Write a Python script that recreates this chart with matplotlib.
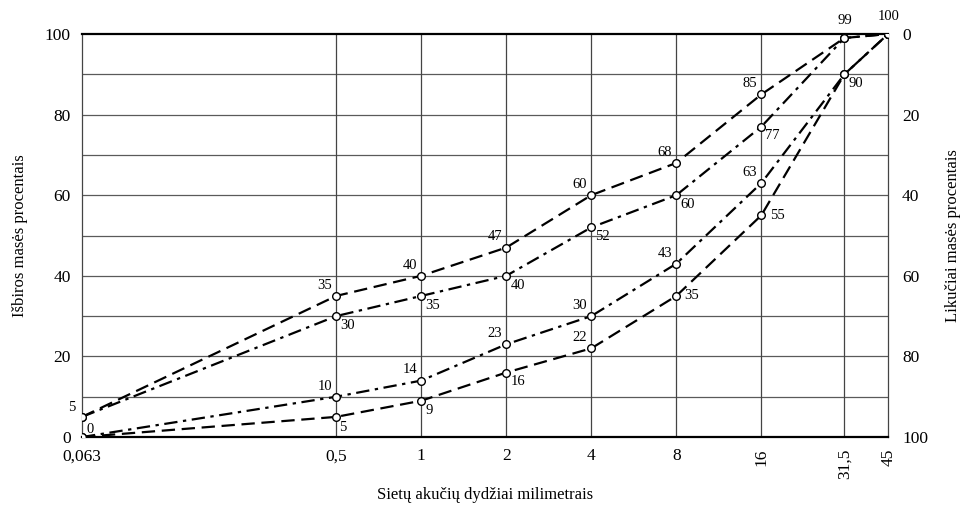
import matplotlib
matplotlib.use('Agg')
import matplotlib.pyplot as plt
import matplotlib.ticker as mticker

plt.rcParams['font.family'] = ['Liberation Serif', 'DejaVu Serif']

# sieve sizes, mm
sieves = [0.063, 0.5, 1, 2, 4, 8, 16, 31.5, 45]
sieve_labels = ['0,063', '0,5', '1', '2', '4', '8', '16', '31,5', '45']

# passing, % (upper envelope pair and lower envelope pair)
upper_dash = [5, 35, 40, 47, 60, 68, 85, 99, 100]
upper_dashdot = [5, 30, 35, 40, 52, 60, 77, 99, 100]
lower_dashdot = [0, 10, 14, 23, 30, 43, 63, 90, 100]
lower_dash = [0, 5, 9, 16, 22, 35, 55, 90, 100]

fig = plt.figure(figsize=(9.69, 5.07), dpi=100)
ax = fig.add_axes([0.0846, 0.138, 0.832, 0.795])

ax.set_xscale('log')
ax.set_xlim(0.063, 45)
ax.set_ylim(0, 100)

# grid
for yv in range(10, 100, 10):
    ax.axhline(yv, color='#5a5a5a', lw=0.9, zorder=1)
for xv in sieves[1:-1]:
    ax.axvline(xv, color='#444444', lw=0.9, zorder=1)

dash = (0, (6, 3))
dashdot = (0, (6, 2.5, 1.5, 2.5))
mk = dict(marker='o', markersize=5.5, markerfacecolor='white', markeredgecolor='black',
          markeredgewidth=1.0, color='black', lw=1.6, zorder=3)
ax.plot(sieves, upper_dash, linestyle=dash, **mk)
ax.plot(sieves, upper_dashdot, linestyle=dashdot, **mk)
ax.plot(sieves, lower_dashdot, linestyle=dashdot, **mk)
ax.plot(sieves, lower_dash, linestyle=dash, **mk)

fs = 10.5
def lab(x, y, txt, pos):
    if pos == 'ul':
        ax.annotate(txt, (x, y), xytext=(-3, 3), textcoords='offset points',
                    ha='right', va='bottom', fontsize=fs)
    elif pos == 'lr':
        ax.annotate(txt, (x, y), xytext=(3, -2), textcoords='offset points',
                    ha='left', va='top', fontsize=fs)
    elif pos == 'l':
        ax.annotate(txt, (x, y), xytext=(-5, 2), textcoords='offset points',
                    ha='right', va='bottom', fontsize=fs)
    elif pos == 'ur':
        ax.annotate(txt, (x, y), xytext=(3, 1), textcoords='offset points',
                    ha='left', va='bottom', fontsize=fs)
    elif pos == 'u':
        ax.annotate(txt, (x, y), xytext=(0, 8), textcoords='offset points',
                    ha='center', va='bottom', fontsize=fs)
    elif pos == 'b':
        ax.annotate(txt, (x, y), xytext=(2, -3), textcoords='offset points',
                    ha='left', va='top', fontsize=fs)
    elif pos == 'r':
        ax.annotate(txt, (x, y), xytext=(6, 0), textcoords='offset points',
                    ha='left', va='center', fontsize=fs)

lab(sieves[0], upper_dash[0], str(upper_dash[0]), 'l')
lab(sieves[0], lower_dash[0], str(lower_dash[0]), 'ur')
for i in range(1, 7):
    lab(sieves[i], upper_dash[i], str(upper_dash[i]), 'ul')
    lab(sieves[i], upper_dashdot[i], str(upper_dashdot[i]), 'lr')
    lab(sieves[i], lower_dashdot[i], str(lower_dashdot[i]), 'ul')
lab(sieves[1], lower_dash[1], str(lower_dash[1]), 'b')
for i in [2, 3]:
    lab(sieves[i], lower_dash[i], str(lower_dash[i]), 'lr')
lab(sieves[4], lower_dash[4], str(lower_dash[4]), 'ul')
for i in [5, 6]:
    lab(sieves[i], lower_dash[i], str(lower_dash[i]), 'r')
lab(sieves[7], upper_dash[7], str(upper_dash[7]), 'u')
lab(sieves[8], upper_dash[8], str(upper_dash[8]), 'u')
lab(sieves[7], lower_dash[7], str(lower_dash[7]), 'lr')

ax.xaxis.set_major_locator(mticker.FixedLocator(sieves))
ax.xaxis.set_minor_locator(mticker.NullLocator())
ax.set_xticklabels(sieve_labels)
for t in ax.get_xticklabels()[-3:]:
    t.set_rotation(90)
    t.set_va('top')
ax.set_yticks(range(0, 101, 20))
ax.tick_params(axis='both', length=0, labelsize=12.5, pad=8)

for s in ['top', 'bottom']:
    ax.spines[s].set_linewidth(1.6)
for s in ['left', 'right']:
    ax.spines[s].set_linewidth(0.9)
    ax.spines[s].set_color('#444444')

ax.set_xlabel('Sietų akučių dydžiai milimetrais', fontsize=12, labelpad=6)
ax.set_ylabel('Išbiros masės procentais', fontsize=12, labelpad=12)

ax2 = ax.twinx()
ax2.set_ylim(100, 0)
ax2.set_yticks(range(0, 101, 20))
ax2.tick_params(axis='y', length=0, labelsize=12.5, pad=10)
for s in ax2.spines.values():
    s.set_visible(False)
ax2.set_ylabel('Likučiai masės procentais', fontsize=12, labelpad=12)

fig.savefig('out.png', dpi=100)
